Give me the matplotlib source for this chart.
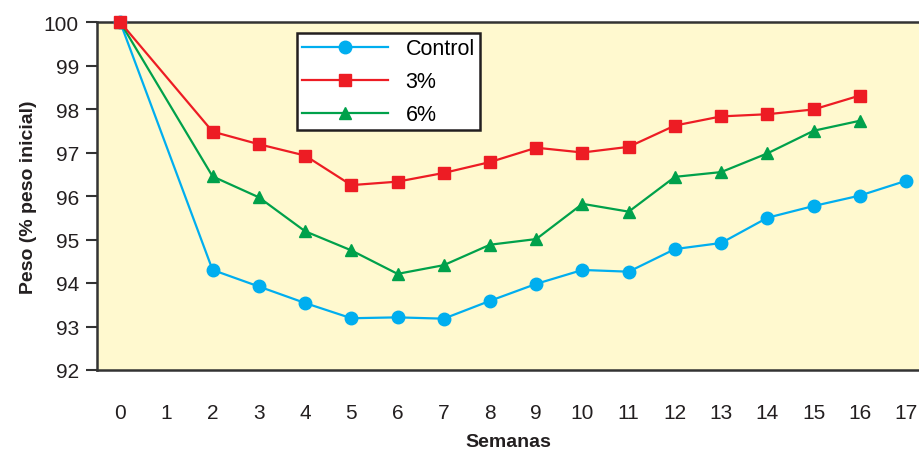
import matplotlib.pyplot as plt
import numpy as np

plt.rcParams['font.family'] = ['Liberation Sans', 'DejaVu Sans']

# semanas y peso (% peso inicial)
weeks_control = [0, 2, 3, 4, 5, 6, 7, 8, 9, 10, 11, 12, 13, 14, 15, 16, 17]
control = [100, 94.30, 93.92, 93.54, 93.19, 93.21, 93.18, 93.59, 93.98, 94.30, 94.26,
           94.78, 94.92, 95.50, 95.77, 96.01, 96.35]

weeks_trt = [0, 2, 3, 4, 5, 6, 7, 8, 9, 10, 11, 12, 13, 14, 15, 16]
pct3 = [100, 97.48, 97.19, 96.93, 96.25, 96.33, 96.53, 96.78, 97.11, 97.00, 97.13,
        97.62, 97.83, 97.88, 97.99, 98.31]
pct6 = [100, 96.45, 95.97, 95.19, 94.75, 94.21, 94.41, 94.88, 95.01, 95.82, 95.64,
        96.44, 96.55, 96.98, 97.50, 97.73]

xticks = list(range(0, 18))
yticks = list(range(92, 101))

fig = plt.figure(figsize=(9.2, 4.52), dpi=100)
ax = fig.add_axes([97 / 920, 1 - 371 / 452, 1 - 97 / 920, (371 - 23) / 452])
ax.set_facecolor('#FFF9CF')

ax.plot(weeks_control, control, color='#00AEEF', marker='o', markersize=9,
        linewidth=1.6, label='Control', clip_on=False, zorder=3)
ax.plot(weeks_trt, pct3, color='#ED1C24', marker='s', markersize=8.5,
        linewidth=1.6, label='3%', clip_on=False, zorder=4)
ax.plot(weeks_trt, pct6, color='#00A14B', marker='^', markersize=9,
        linewidth=1.6, label='6%', clip_on=False, zorder=3)

ax.set_xlim(-0.5, 17.3)
ax.set_ylim(92, 100)
ax.set_xticks(xticks)
ax.set_yticks(yticks)
ax.tick_params(axis='x', length=0, pad=24, labelsize=15, colors='#231F20')
ax.tick_params(axis='y', length=8, width=1.5, direction='out', labelsize=15,
               pad=5, colors='#333333', labelcolor='#231F20')

for side in ['left', 'bottom', 'top']:
    ax.spines[side].set_color('#333333')
    ax.spines[side].set_linewidth(1.8)
ax.spines['right'].set_visible(False)

ax.set_xlabel('Semanas', fontsize=14, fontweight='bold', color='#231F20', labelpad=8)
ax.set_ylabel('Peso (% peso inicial)', fontsize=14, fontweight='bold', color='#231F20',
              labelpad=5)

leg = ax.legend(loc='upper left', bbox_to_anchor=(200 / 823, 1 - 11 / 348),
                fontsize=15.5, handlelength=4.0, fancybox=False, framealpha=1,
                edgecolor='#231F20', borderpad=0.25, labelspacing=0.55,
                handletextpad=0.8, borderaxespad=0)
leg.get_frame().set_linewidth(1.8)

fig.savefig('out.png', dpi=100)
